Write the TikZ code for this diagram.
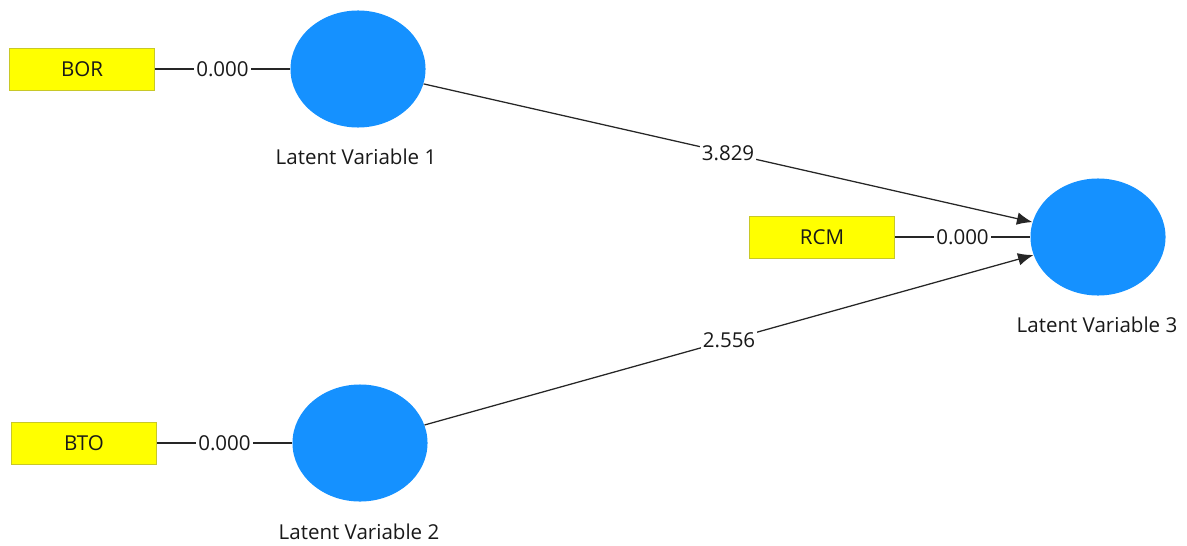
\documentclass[tikz,border=0pt]{standalone}
\usepackage{fontspec}
\setmainfont{Open Sans}
\usetikzlibrary{shapes.geometric,arrows.meta}
\definecolor{lvblue}{RGB}{21,145,255}
\definecolor{mvyellow}{RGB}{255,255,0}
\definecolor{mvborder}{RGB}{200,200,40}

\begin{document}
\begin{tikzpicture}[x=0.025cm, y=-0.025cm,
  every node/.style = {font=\fontsize{14.6}{16}\selectfont, text=black!90},
  latent/.style = {ellipse, fill=lvblue, minimum width=3.375cm,
    minimum height=2.925cm, inner sep=0pt},
  indicator/.style = {rectangle, draw=mvborder, fill=mvyellow,
    minimum width=3.625cm, minimum height=1.05cm, inner sep=0pt},
  coef/.style = {fill=white, inner sep=1.5pt},
  link/.style = {draw=black!85, line width=0.9pt},
  path/.style = {link, -{Latex[length=11pt, width=9pt]}}]
  \useasboundingbox (0,0) rectangle (1187,545);

  % latent variables
  \node[latent] (lv1) at (358,69) {};
  \node[latent] (lv2) at (360,443) {};
  \node[latent] (lv3) at (1098,237) {};
  \node (lv1cap) at (356,157) {Latent Variable 1};
  \node (lv2cap) at (359,532) {Latent Variable 2};
  \node (lv3cap) at (1097,325) {Latent Variable 3};

  % indicators
  \node[indicator] (bor) at (82,69) {BOR};
  \node[indicator] (bto) at (84,443) {BTO};
  \node[indicator] (rcm) at (822,237) {RCM};

  % outer loadings
  \draw[link] (bor) -- node[coef] {0.000} (lv1);
  \draw[link] (bto) -- node[coef] {0.000} (lv2);
  \draw[link] (rcm) -- node[coef] {0.000} (lv3);

  % path coefficients
  \draw[path] (lv1) -- node[coef] {3.829} (lv3);
  \draw[path] (lv2) -- node[coef] {2.556} (lv3);
\end{tikzpicture}
\end{document}
